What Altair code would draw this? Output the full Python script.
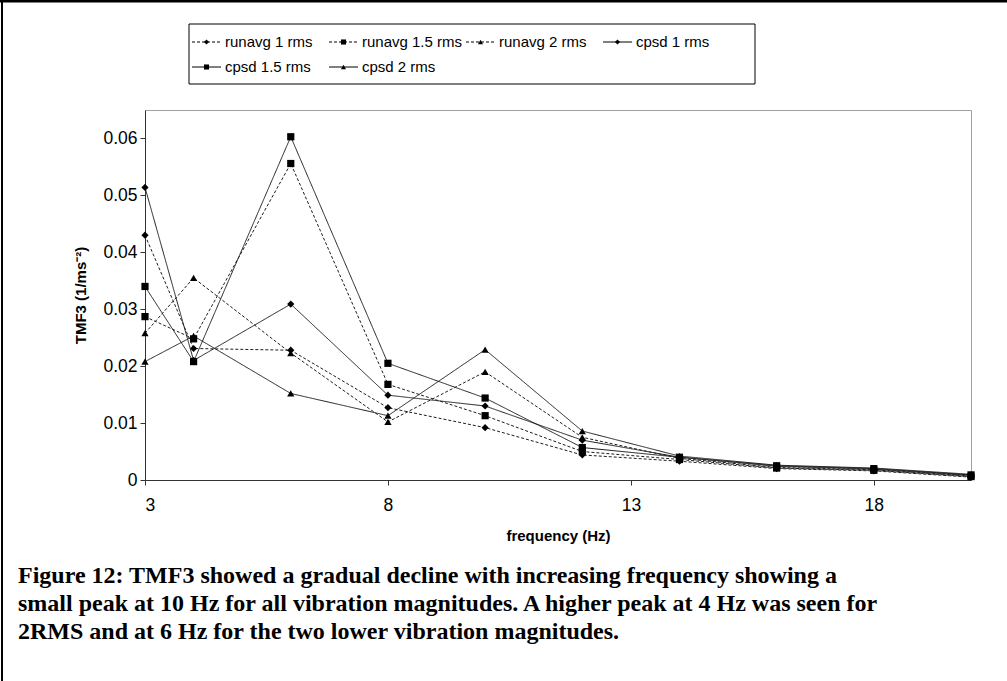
import altair as alt
import pandas as pd

# Frequencies (Hz) at which TMF3 was evaluated
freq = [3, 4, 6, 8, 10, 12, 14, 16, 18, 20]

# TMF3 (1/ms^-2) for each method / vibration magnitude
runavg_1 = [0.0430, 0.0231, 0.0228, 0.0127, 0.0092, 0.0044, 0.0033, 0.0020, 0.0016, 0.0005]
runavg_15 = [0.0287, 0.0248, 0.0556, 0.0168, 0.0113, 0.0050, 0.0036, 0.0021, 0.0017, 0.0006]
runavg_2 = [0.0258, 0.0355, 0.0223, 0.0102, 0.0190, 0.0075, 0.0038, 0.0022, 0.0018, 0.0007]
cpsd_1 = [0.0514, 0.0210, 0.0309, 0.0149, 0.0130, 0.0070, 0.0040, 0.0024, 0.0019, 0.0008]
cpsd_15 = [0.0340, 0.0208, 0.0603, 0.0205, 0.0144, 0.0057, 0.0040, 0.0025, 0.0020, 0.0009]
cpsd_2 = [0.0208, 0.0253, 0.0152, 0.0113, 0.0229, 0.0086, 0.0042, 0.0026, 0.0021, 0.0010]

series_names = ["runavg 1 rms", "runavg 1.5 rms", "runavg 2 rms",
                "cpsd 1 rms", "cpsd 1.5 rms", "cpsd 2 rms"]
series_values = [runavg_1, runavg_15, runavg_2, cpsd_1, cpsd_15, cpsd_2]

x_ticks = [3, 8, 13, 18]
y_ticks = [0, 0.01, 0.02, 0.03, 0.04, 0.05, 0.06]

caption_lines = [
    "Figure 12: TMF3 showed a gradual decline with increasing frequency showing a",
    "small peak at 10 Hz for all vibration magnitudes. A higher peak at 4 Hz was seen for",
    "2RMS and at 6 Hz for the two lower vibration magnitudes.",
]

# Styles per series: dotted for running average, solid for CPSD;
# diamond / square / triangle for 1 / 1.5 / 2 rms
dash_styles = [[3, 2], [3, 2], [3, 2], [1, 0], [1, 0], [1, 0]]
marker_shapes = ["diamond", "square", "triangle-up"] * 2

rows = []
for name, vals in zip(series_names, series_values):
    for f, v in zip(freq, vals):
        rows.append({"series": name, "freq": f, "value": v})
df = pd.DataFrame(rows)

FONT = "Liberation Sans"

# ---- key (legend) layout, in pixels relative to the plot area ----
KEY_BOX = (44, 610, -86, -26)          # left, right, top, bottom
KEY_COL0, KEY_STEP, KEY_SYM = 47, 137, 29
KEY_ROWS = [-68, -43]
key_rows = []
for i, name in enumerate(series_names):
    col, row = i % 4, i // 4
    x0 = KEY_COL0 + col * KEY_STEP
    key_rows.append({
        "series": name,
        "x0": x0,
        "xm": x0 + KEY_SYM / 2,
        "x1": x0 + KEY_SYM,
        "xt": x0 + KEY_SYM + 4,
        "ky": KEY_ROWS[row],
    })
key_df = pd.DataFrame(key_rows)

dash_scale = alt.Scale(domain=series_names, range=dash_styles)
shape_scale = alt.Scale(domain=series_names, range=marker_shapes)

x_enc = alt.X(
    "freq:Q",
    scale=alt.Scale(domain=[3, 20], nice=False, zero=False),
    axis=alt.Axis(values=x_ticks, title="frequency (Hz)", labelPadding=11,
                  titlePadding=15),
)
y_enc = alt.Y(
    "value:Q",
    scale=alt.Scale(domain=[0, 0.065], nice=False),
    axis=alt.Axis(values=y_ticks, format=".2~f", title="TMF3 (1/ms⁻²)",
                  labelPadding=3, titlePadding=14),
)

base = alt.Chart(df)

lines = base.mark_line(color="#1e1e1e", strokeWidth=1).encode(
    x=x_enc, y=y_enc, detail="series:N",
    strokeDash=alt.StrokeDash("series:N", scale=dash_scale, legend=None),
)

points = base.mark_point(filled=True, color="black", size=52, opacity=1).encode(
    x=x_enc, y=y_enc,
    shape=alt.Shape("series:N", scale=shape_scale, legend=None),
)

kbase = alt.Chart(key_df)
one = pd.DataFrame({"k": [0]})

key_box = alt.Chart(one).mark_rect(fill="white", stroke="black", strokeWidth=1).encode(
    x=alt.value(KEY_BOX[0]), x2=alt.value(KEY_BOX[1]),
    y=alt.value(KEY_BOX[2]), y2=alt.value(KEY_BOX[3]),
)
key_lines = kbase.mark_rule(color="black", strokeWidth=1).encode(
    x=alt.X("x0:Q", scale=None), x2="x1:Q", y=alt.Y("ky:Q", scale=None),
    strokeDash=alt.StrokeDash("series:N", scale=dash_scale, legend=None),
)
key_marks = kbase.mark_point(filled=True, color="black", size=26, opacity=1).encode(
    x=alt.X("xm:Q", scale=None), y=alt.Y("ky:Q", scale=None),
    shape=alt.Shape("series:N", scale=shape_scale, legend=None),
)
key_text = kbase.mark_text(align="left", baseline="middle", font=FONT,
                           fontSize=15, color="black").encode(
    x=alt.X("xt:Q", scale=None), y=alt.Y("ky:Q", scale=None), text="series:N",
)

caption = alt.Chart(one).mark_text(
    text=caption_lines, font="Liberation Serif", fontSize=24, fontWeight="bold",
    align="left", baseline="alphabetic", lineHeight=28, color="black",
).encode(x=alt.value(-127), y=alt.value(473))

frame_top = alt.Chart(one).mark_rule(color="black", strokeWidth=3).encode(
    x=alt.value(-145), x2=alt.value(862), y=alt.value(-109)
)
frame_left = alt.Chart(one).mark_rule(color="black", strokeWidth=2).encode(
    x=alt.value(-143), y=alt.value(-110), y2=alt.value(571)
)

chart = (
    alt.layer(lines, points, key_box, key_lines, key_marks, key_text,
              caption, frame_top, frame_left)
    .properties(
        width=826,
        height=370,
        padding={"left": 145, "top": 110, "right": 36, "bottom": 201},
        autosize=alt.AutoSizeParams(type="none"),
        background="white",
    )
    .configure_view(stroke="#a0a0a0", strokeWidth=1)
    .configure_axis(
        grid=False,
        domainColor="#333333",
        tickColor="#333333",
        tickSize=5,
        labelFont=FONT,
        labelFontSize=17.5,
        labelColor="black",
        titleFont=FONT,
        titleFontSize=15,
        titleFontWeight="bold",
        titleColor="black",
    )
)

chart.save("out.html", embed_options={"renderer": "svg", "actions": False})
